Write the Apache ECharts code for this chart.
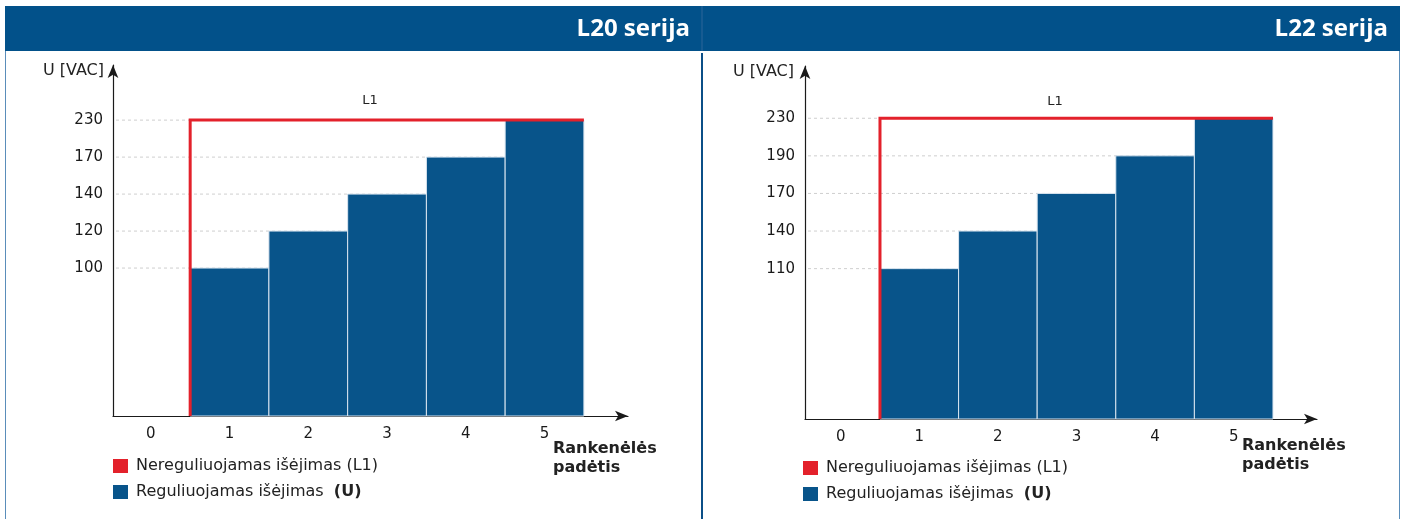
<!DOCTYPE html>
<html>
<head>
<meta charset="utf-8">
<script src="https://cdn.jsdelivr.net/npm/echarts@6/dist/echarts.min.js"></script>
<style>
  html, body { margin: 0; padding: 0; background: #fff; }
  #chart { width: 1405px; height: 519px; }
</style>
</head>
<body>
<div id="chart"></div>
<script>
  // duomenys
  const positions = [0, 1, 2, 3, 4, 5]
  const barPositions = [1, 2, 3, 4, 5]
  const l20Ticks = [100, 120, 140, 170, 230]
  const l20Values = [100, 120, 140, 170, 230]
  const l22Ticks = [110, 140, 170, 190, 230]
  const l22Values = [110, 140, 170, 190, 230]
  const l1Value = 230
  const titles = ['L20 serija', 'L22 serija']
  const lineName = 'Nereguliuojamas išėjimas (L1)'
  const barName = 'Reguliuojamas išėjimas'

  // schematinė ašis: pirmoji žyma 4-ame lygyje, toliau po vieną
  const LEVEL0 = 4
  const levelOf = (ticks, v) => ticks.indexOf(v) + LEVEL0

  const RED = '#e3212b'
  const BLUE = '#08548a'
  const DARK = '#02518a'
  const FONT = 'DejaVu Sans'

  let chart = echarts.init(document.getElementById('chart'))

  function xAxisItem(gridIndex, min, max) {
    return {
      type: 'value', gridIndex, min, max,
      axisLine: { show: true, onZero: false, lineStyle: { color: '#1a1a1a', width: 1.2 }, symbol: ['none', 'arrow'], symbolSize: [8, 13] },
      axisTick: { show: false },
      splitLine: { show: false },
      axisLabel: {
        customValues: positions, margin: 11,
        color: '#1a1a1a', fontSize: 15, fontFamily: FONT,
        formatter: v => String(v)
      }
    }
  }

  function yAxisItem(gridIndex, max, ticks) {
    return {
      type: 'value', gridIndex, min: 0, max,
      axisLine: { show: true, onZero: false, lineStyle: { color: '#1a1a1a', width: 1.2 }, symbol: ['none', 'arrow'], symbolSize: [8, 13] },
      axisTick: { show: false },
      splitLine: { show: false },
      axisLabel: {
        customValues: ticks.map((t, i) => i + LEVEL0), margin: 10,
        color: '#1a1a1a', fontSize: 15, fontFamily: FONT,
        formatter: v => String(ticks[v - LEVEL0])
      }
    }
  }

  // punktyrinės tinklelio linijos tik iki paskutinio stulpelio
  function gridSeries(idx, ticks) {
    return {
      type: 'custom', xAxisIndex: idx, yAxisIndex: idx, z: 1, silent: true,
      data: ticks.map(t => [levelOf(ticks, t)]),
      renderItem: (params, api) => {
        const lvl = api.value(0)
        const p2 = api.coord([positions[positions.length - 1] + 0.5, lvl])
        return {
          type: 'line',
          shape: { x1: params.coordSys.x + 3, y1: p2[1], x2: p2[0], y2: p2[1] },
          style: { stroke: '#cfcfcf', lineWidth: 1, lineDash: [3, 3] }
        }
      }
    }
  }

  function barSeries(idx, ticks, values) {
    return {
      name: barName, type: 'custom', xAxisIndex: idx, yAxisIndex: idx, z: 3,
      itemStyle: { color: BLUE },
      data: values.map((v, i) => [barPositions[i], levelOf(ticks, v)]),
      encode: { x: 0, y: 1 },
      renderItem: (params, api) => {
        const x = api.value(0)
        const tl = api.coord([x - 0.5, api.value(1)])
        const br = api.coord([x + 0.5, 0])
        return {
          type: 'rect',
          shape: { x: tl[0], y: tl[1], width: br[0] - tl[0], height: br[1] - tl[1] },
          style: { fill: BLUE, stroke: '#d9e5f0', lineWidth: 1 }
        }
      }
    }
  }

  function l1Series(idx, ticks) {
    const xa = barPositions[0] - 0.5
    const xb = barPositions[barPositions.length - 1] + 0.5
    const lvl = levelOf(ticks, l1Value)
    const pts = [[xa, 0], [xa, lvl], [xb, lvl]]
    return {
      name: lineName, type: 'custom', xAxisIndex: idx, yAxisIndex: idx, z: 5,
      itemStyle: { color: RED },
      data: [[xa, lvl]],
      renderItem: (params, api) => ({
        type: 'polyline',
        shape: { points: pts.map(p => api.coord(p)) },
        style: { stroke: RED, lineWidth: 3, fill: null, lineJoin: 'miter' }
      })
    }
  }

  function legendItem(left, top) {
    return {
      orient: 'vertical', left, top, padding: 0,
      icon: 'rect', itemWidth: 15, itemHeight: 14, itemGap: 10,
      selectedMode: false,
      data: [lineName, barName],
      textStyle: {
        color: '#222', fontSize: 16, fontFamily: FONT, padding: [0, 0, 0, 3],
        rich: { b: { fontWeight: 'bold', fontSize: 16, fontFamily: FONT, color: '#222' } }
      },
      formatter: name => name === barName ? name + '  {b|(U)}' : name
    }
  }

  function text(x, y, str, opts) {
    return {
      type: 'text', x, y, z: 10,
      style: Object.assign({ text: str, fill: '#222', font: '16px "DejaVu Sans"', textVerticalAlign: 'middle' }, opts)
    }
  }

  chart.setOption({
    animation: false,
    grid: [
      { left: 113, top: 65, width: 515, height: 351 },
      { left: 805, top: 66, width: 512, height: 353 }
    ],
    xAxis: [xAxisItem(0, -0.48, 6.06), xAxisItem(1, -0.454, 6.06)],
    yAxis: [yAxisItem(0, 9.49, l20Ticks), yAxisItem(1, 9.39, l22Ticks)],
    legend: [legendItem(113, 458), legendItem(803, 460)],
    series: [
      gridSeries(0, l20Ticks), barSeries(0, l20Ticks, l20Values), l1Series(0, l20Ticks),
      gridSeries(1, l22Ticks), barSeries(1, l22Ticks, l22Values), l1Series(1, l22Ticks)
    ],
    graphic: [
      { type: 'rect', shape: { x: 5, y: 6, width: 1395, height: 45 }, style: { fill: DARK } },
      { type: 'line', shape: { x1: 702, y1: 6, x2: 702, y2: 51 }, style: { stroke: '#2c6799', lineWidth: 1 } },
      { type: 'line', shape: { x1: 5.5, y1: 51, x2: 5.5, y2: 519 }, style: { stroke: '#5a8dba', lineWidth: 1 } },
      { type: 'line', shape: { x1: 1399.5, y1: 51, x2: 1399.5, y2: 519 }, style: { stroke: '#5a8dba', lineWidth: 1 } },
      { type: 'line', shape: { x1: 702, y1: 53, x2: 702, y2: 519 }, style: { stroke: '#0b4f87', lineWidth: 2 } },
      text(690, 29, titles[0], { fill: '#fff', font: 'bold 24px "Open Sans"', textAlign: 'right' }),
      text(1388, 29, titles[1], { fill: '#fff', font: 'bold 24px "Open Sans"', textAlign: 'right' }),
      text(104, 71, 'U [VAC]', { textAlign: 'right' }),
      text(794, 72, 'U [VAC]', { textAlign: 'right' }),
      text(370, 101, 'L1', { font: '13px "DejaVu Sans"', textAlign: 'center' }),
      text(1055, 102, 'L1', { font: '13px "DejaVu Sans"', textAlign: 'center' }),
      text(553, 449, 'Rankenėlės', { font: 'bold 16px "DejaVu Sans"' }),
      text(553, 468, 'padėtis', { font: 'bold 16px "DejaVu Sans"' }),
      text(1242, 446, 'Rankenėlės', { font: 'bold 16px "DejaVu Sans"' }),
      text(1242, 465, 'padėtis', { font: 'bold 16px "DejaVu Sans"' })
    ]
  })

  window.addEventListener('resize', () => {
    chart.resize()
  })
</script>
</body>
</html>
